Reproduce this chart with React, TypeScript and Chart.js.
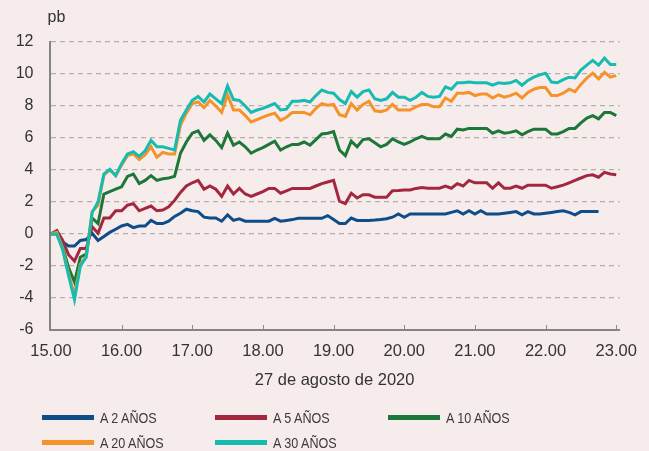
import React, { useEffect, useRef } from "react";
import { Chart, registerables } from "chart.js";

Chart.register(...registerables);

// Time axis: 15:00 to 23:00, 5-minute observations (minutes after 15:00)
const START_HOUR = 15;
const STEP_MIN = 5;
const HOUR_TICKS = [15, 16, 17, 18, 19, 20, 21, 22, 23];
const HOUR_LABELS = ["15.00", "16.00", "17.00", "18.00", "19.00", "20.00", "21.00", "22.00", "23.00"];
const Y_TICKS = [-6, -4, -2, 0, 2, 4, 6, 8, 10, 12];
const Y_UNIT = "pb";
const X_TITLE = "27 de agosto de 2020";

const SERIES_NAMES = ["A 2 AÑOS", "A 5 AÑOS", "A 10 AÑOS", "A 20 AÑOS", "A 30 AÑOS"];
const SERIES_COLORS = ["#0f4c8a", "#a3283f", "#1d7739", "#f5922a", "#17bcb0"];

const y2 = [
  0, 0.2, -0.5, -0.75, -0.75, -0.4, -0.35, 0.05, -0.4, -0.15,
  0.1, 0.3, 0.5, 0.6, 0.4, 0.5, 0.5, 0.85, 0.65, 0.65,
  0.8, 1.1, 1.3, 1.55, 1.45, 1.4, 1.05, 1.0, 1.0, 0.8,
  1.2, 0.85, 0.95, 0.8, 0.8, 0.8, 0.8, 0.8, 0.98, 0.8,
  0.85, 0.9, 0.98, 0.98, 0.98, 0.98, 0.98, 1.15, 0.9, 0.65,
  0.65, 1.0, 0.85, 0.85, 0.85, 0.87, 0.9, 0.95, 1.05, 1.25,
  1.05, 1.25, 1.25, 1.25, 1.25, 1.25, 1.25, 1.25, 1.35, 1.45,
  1.25, 1.45, 1.25, 1.45, 1.25, 1.25, 1.25, 1.3, 1.35, 1.4,
  1.2, 1.4, 1.25, 1.25, 1.3, 1.35, 1.4, 1.45, 1.35, 1.2,
  1.4, 1.4, 1.4, 1.4, null, null, null,
];

const y5 = [
  0, 0.2, -0.4, -1.3, -1.7, -0.9, -0.9, 0.45, 0.05, 1.0,
  1.0, 1.45, 1.45, 1.8, 1.9, 1.45, 1.6, 1.75, 1.45, 1.5,
  1.7, 2.1, 2.6, 3.0, 3.2, 3.35, 2.8, 3.0, 2.8, 2.35,
  3.0, 2.5, 2.85, 2.5, 2.35, 2.5, 2.65, 2.85, 2.85, 2.55,
  2.7, 2.85, 2.85, 2.85, 2.85, 3.0, 3.15, 3.25, 3.35, 2.05,
  1.9, 2.55, 2.25, 2.45, 2.45, 2.3, 2.3, 2.3, 2.7, 2.72,
  2.75, 2.75, 2.85, 2.9, 2.86, 2.86, 2.86, 3.0, 2.86, 3.15,
  3.0, 3.35, 3.2, 3.2, 3.2, 2.86, 3.2, 2.86, 2.86, 3.0,
  2.86, 3.05, 3.05, 3.05, 3.05, 2.86, 2.95, 3.05, 3.2, 3.35,
  3.5, 3.65, 3.7, 3.55, 3.85, 3.75, 3.7,
];

const y10 = [
  0, 0, -0.8, -2.1, -3.0, -1.45, -1.25, 1.0, 0.65, 2.5,
  2.65, 2.8, 2.95, 3.6, 3.75, 3.15, 3.35, 3.65, 3.35, 3.45,
  3.5, 3.6, 5.05, 5.75, 6.3, 6.45, 5.85, 6.2, 5.85, 5.4,
  6.3, 5.55, 5.75, 5.45, 5.05, 5.25, 5.4, 5.6, 5.8, 5.25,
  5.45, 5.6, 5.6, 5.75, 5.55, 5.9, 6.25, 6.3, 6.4, 5.25,
  4.9, 5.8, 5.45, 5.9, 5.95, 5.7, 5.45, 5.6, 5.95, 5.75,
  5.6, 5.75, 5.95, 6.1, 5.95, 5.95, 5.95, 6.25, 6.1, 6.55,
  6.5, 6.6, 6.6, 6.6, 6.6, 6.3, 6.45, 6.3, 6.35, 6.45,
  6.2, 6.4, 6.55, 6.55, 6.55, 6.25, 6.25, 6.4, 6.6, 6.6,
  6.95, 7.25, 7.4, 7.2, 7.6, 7.6, 7.4,
];

const y20 = [
  0, 0.1, -0.9, -2.5, -3.8, -1.9, -1.4, 1.4, 1.8, 3.7,
  4.0, 3.65, 4.3, 4.9, 5.0, 4.65, 4.95, 5.45, 4.8, 5.1,
  5.0, 5.0, 6.8, 7.55, 8.15, 8.25, 7.9, 8.35, 8.0, 7.6,
  8.7, 7.75, 7.75, 7.4, 7.0, 7.15, 7.3, 7.45, 7.55, 7.1,
  7.3, 7.6, 7.6, 7.6, 7.45, 7.85, 8.15, 8.05, 8.1, 7.45,
  7.35, 8.15, 7.75, 8.1, 8.3, 7.7, 7.65, 7.75, 8.1, 7.75,
  7.75, 7.75, 7.95, 8.1, 8.1, 7.95, 7.95, 8.5, 8.3, 8.8,
  8.8, 8.85, 8.65, 8.75, 8.75, 8.5, 8.7, 8.55, 8.65, 8.8,
  8.5, 8.85, 9.05, 9.15, 9.15, 8.65, 8.65, 8.8, 9.05, 8.9,
  9.35, 9.75, 10.05, 9.7, 10.1, 9.8, 9.9,
];

const y30 = [
  0, 0, -1.0, -2.6, -4.1, -2.0, -1.45, 1.35, 2.0, 3.75,
  4.05, 3.65, 4.4, 5.0, 5.15, 4.85, 5.2, 5.85, 5.45, 5.45,
  5.35, 5.25, 7.1, 7.75, 8.35, 8.6, 8.25, 8.75, 8.45, 8.15,
  9.25, 8.4, 8.35, 8.0, 7.6, 7.75, 7.85, 8.0, 8.15, 7.75,
  7.8, 8.3, 8.3, 8.35, 8.25, 8.65, 9.0, 8.85, 8.8, 8.4,
  8.15, 8.9, 8.55, 8.9, 9.0, 8.45, 8.35, 8.45, 8.85, 8.55,
  8.55, 8.35, 8.55, 8.85, 8.6, 8.55, 8.6, 9.2, 9.05, 9.45,
  9.45, 9.5, 9.45, 9.45, 9.45, 9.3, 9.45, 9.4, 9.45, 9.6,
  9.3, 9.6, 9.8, 9.95, 10.05, 9.5, 9.45, 9.65, 9.8, 9.75,
  10.25, 10.55, 10.85, 10.55, 11.0, 10.6, 10.6,
];

const SERIES = [y2, y5, y10, y20, y30];

const FONT = "'Liberation Sans', Arial, Helvetica, sans-serif";
const TEXT = "#333333";
const BG = "#f7ecec";

export default function App() {
  const ref = useRef<HTMLCanvasElement | null>(null);

  useEffect(() => {
    document.body.style.margin = "0";
    document.body.style.background = BG;
    const canvas = ref.current;
    if (!canvas) return;

    const datasets = SERIES.map((vals, si) => ({
      label: SERIES_NAMES[si],
      data: vals.map((v, i) => ({ x: i * STEP_MIN, y: v })),
      borderColor: SERIES_COLORS[si],
      backgroundColor: SERIES_COLORS[si],
      borderWidth: 3,
      pointRadius: 0,
      tension: 0,
      spanGaps: false,
      fill: false,
      order: SERIES.length - 1 - si,
    }));

    const overlay = {
      id: "overlay",
      afterDraw(chart: any) {
        const { ctx, chartArea, scales } = chart;
        ctx.save();
        ctx.strokeStyle = "#8a8a8a";
        ctx.lineWidth = 1;
        HOUR_TICKS.slice(1).forEach((h) => {
          const x = Math.round(scales.x.getPixelForValue((h - START_HOUR) * 60)) + 0.5;
          ctx.beginPath();
          ctx.moveTo(x, chartArea.bottom);
          ctx.lineTo(x, chartArea.bottom - 5);
          ctx.stroke();
        });
        ctx.fillStyle = TEXT;
        ctx.font = "16px " + FONT;
        ctx.textAlign = "left";
        ctx.textBaseline = "middle";
        ctx.fillText(Y_UNIT, chartArea.left - 2, 18);
        ctx.restore();
      },
    };

    const chart = new Chart(canvas, {
      type: "line",
      data: { datasets },
      plugins: [overlay],
      options: {
        responsive: false,
        animation: false,
        layout: { padding: { top: 42, right: 20, bottom: 61, left: 0 } },
        plugins: { legend: { display: false }, tooltip: { enabled: false } },
        scales: {
          x: {
            type: "linear",
            min: -1.2,
            max: 483,
            afterBuildTicks: (scale: any) => {
              scale.ticks = HOUR_TICKS.map((h) => ({ value: (h - START_HOUR) * 60 }));
            },
            afterFit: (scale: any) => {
              scale.height = 60;
            },
            grid: { display: false, drawTicks: false },
            border: { display: true, color: "#858585", width: 2 },
            ticks: {
              autoSkip: false,
              maxRotation: 0,
              padding: 12,
              color: TEXT,
              font: { family: FONT, size: 16.5 },
              callback: (v: any) => {
                const idx = HOUR_TICKS.indexOf(START_HOUR + Number(v) / 60);
                return idx >= 0 ? HOUR_LABELS[idx] : "";
              },
            },
            title: {
              display: true,
              text: X_TITLE,
              color: TEXT,
              font: { family: FONT, size: 16.5 },
              padding: { top: 0, bottom: 0 },
            },
          },
          y: {
            min: Y_TICKS[0],
            max: Y_TICKS[Y_TICKS.length - 1],
            afterBuildTicks: (scale: any) => {
              scale.ticks = Y_TICKS.map((v) => ({ value: v }));
            },
            afterFit: (scale: any) => {
              scale.width = 49.5;
            },
            grid: { display: true, drawTicks: false, color: "#b5aeae", lineWidth: 1.3 },
            border: { display: true, color: "#858585", width: 2, dash: [5, 4] },
            ticks: {
              padding: 16,
              color: TEXT,
              font: { family: FONT, size: 16 },
            },
          },
        },
      },
    } as any);

    return () => chart.destroy();
  }, []);

  return (
    <div style={{ position: "relative", width: 649, height: 451, background: BG, overflow: "hidden" }}>
      <canvas ref={ref} width={649} height={451} style={{ display: "block" }} />
      <div
        style={{
          position: "absolute",
          left: 42,
          top: 405,
          width: 560,
          display: "flex",
          flexWrap: "wrap",
        }}
      >
        {SERIES_NAMES.map((name, i) => (
          <div key={name} style={{ width: 173, height: 25, display: "flex", alignItems: "center" }}>
            <span style={{ display: "inline-block", flex: "0 0 52px", width: 52, height: 4.5, background: SERIES_COLORS[i], marginRight: 6 }} />
            <span
              style={{
                display: "inline-block",
                fontFamily: FONT,
                fontSize: 15,
                color: "#3a3a3a",
                whiteSpace: "nowrap",
                transform: "scaleX(0.84)",
                transformOrigin: "left center",
              }}
            >
              {name}
            </span>
          </div>
        ))}
      </div>
    </div>
  );
}
